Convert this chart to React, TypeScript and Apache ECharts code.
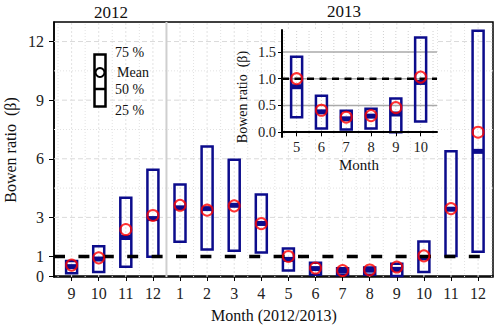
import React, { useEffect, useRef } from 'react';
import * as echarts from 'echarts';

// ---------- data ----------
const monthLabels = ['9', '10', '11', '12', '1', '2', '3', '4', '5', '6', '7', '8', '9', '10', '11', '12'];
const q1Values = [0.14, 0.2, 0.47, 0.98, 1.75, 1.36, 1.29, 1.21, 0.28, 0.07, 0.05, 0.07, 0.0, 0.2, 1.02, 1.24];
const q3Values = [0.77, 1.53, 4.01, 5.44, 4.69, 6.63, 5.95, 4.17, 1.41, 0.68, 0.4, 0.44, 0.63, 1.77, 6.39, 12.55];
const medianValues = [0.48, 0.87, 1.97, 2.94, 3.49, 3.45, 3.62, 2.69, 0.85, 0.38, 0.25, 0.3, 0.34, 0.93, 3.42, 6.38];
const meanValues = [0.56, 0.93, 2.38, 3.1, 3.62, 3.37, 3.59, 2.68, 1.0, 0.41, 0.28, 0.31, 0.46, 1.03, 3.45, 7.36];
const yTickValues = [0, 1, 3, 6, 9, 12];
const mainMajorY = [3, 6, 9, 12];
const mainMinorY = [4.5, 7.5, 10.5];
const yearSeparator = [4.5];
const refValue = [1];

const insetMonths = [5, 6, 7, 8, 9, 10];
const insetStartIndex = 8;
const insetYTicks = [0, 0.5, 1, 1.5];

const yearLabels = ['2012', '2013'];
const legendLabels = ['75 %', 'Mean', '50 %', '25 %'];
const yAxisTitle = 'Bowen ratio  (\u03b2)';
const xAxisTitle = 'Month (2012/2013)';
const insetXAxisTitle = 'Month';

// ---------- layout / style ----------
const FONT = 'Liberation Serif';
const NAVY = '#0c0c8c';
const RED = '#ff0000';
const X_MIN = 0.35, X_MAX = 16.55, Y_MIN = -0.05, Y_MAX = 13.0;
const IX_MIN = 4.41, IX_MAX = 10.66, IY_MIN = -0.09, IY_MAX = 1.91;

function lineSeries(values: number[], dir: 'h' | 'v', axisIdx: number, ex: number[], ey: number[], style: any, z: number) {
  return {
    type: 'custom',
    xAxisIndex: axisIdx,
    yAxisIndex: axisIdx,
    silent: true,
    z,
    data: values.map((v) => [v]),
    renderItem: (_p: any, api: any) => {
      const v = api.value(0);
      const p1 = dir === 'h' ? api.coord([ex[0], v]) : api.coord([v, ey[0]]);
      const p2 = dir === 'h' ? api.coord([ex[1], v]) : api.coord([v, ey[1]]);
      return { type: 'line', shape: { x1: p1[0], y1: p1[1], x2: p2[0], y2: p2[1] }, style };
    },
  };
}

function boxSeries(xs: number[], q1: number[], q3: number[], med: number[], axisIdx: number, z: number) {
  return {
    type: 'custom',
    xAxisIndex: axisIdx,
    yAxisIndex: axisIdx,
    silent: true,
    z,
    encode: { x: 0, y: [1, 2, 3] },
    data: xs.map((x, i) => [x, q1[i], q3[i], med[i]]),
    renderItem: (_p: any, api: any) => {
      const x = api.value(0);
      const lo = api.coord([x, api.value(1)]);
      const hi = api.coord([x, api.value(2)]);
      const md = api.coord([x, api.value(3)]);
      const hw = 5.5;
      return {
        type: 'group',
        children: [
          {
            type: 'rect',
            shape: { x: lo[0] - hw, y: hi[1], width: hw * 2, height: lo[1] - hi[1] },
            style: { fill: 'none', stroke: NAVY, lineWidth: 2.5 },
          },
          {
            type: 'rect',
            shape: { x: lo[0] - hw, y: md[1] - 2.5, width: hw * 2, height: 5 },
            style: { fill: NAVY },
          },
        ],
      };
    },
  };
}

function meanSeries(xs: number[], mean: number[], axisIdx: number, z: number) {
  return {
    type: 'scatter',
    xAxisIndex: axisIdx,
    yAxisIndex: axisIdx,
    silent: true,
    z,
    symbol: 'circle',
    symbolSize: 11,
    itemStyle: { color: 'rgba(0,0,0,0)', borderColor: RED, borderWidth: 2 },
    data: xs.map((x, i) => [x, mean[i]]),
  };
}

export default function App() {
  const ref = useRef<HTMLDivElement>(null);
  useEffect(() => {
    if (!ref.current) return;
    const chart = echarts.init(ref.current, null, { renderer: 'svg' });
    const xs = monthLabels.map((_, i) => i + 1);
    const mainIntX: number[] = xs.slice();
    const mainHalfX: number[] = [];
    for (let i = 0; i <= 16; i++) if (i + 0.5 !== 4.5) mainHalfX.push(i + 0.5);
    const insetHalfX: number[] = [];
    for (let v = 4.5; v <= 10.5; v += 0.5) insetHalfX.push(v);

    const iq1 = q1Values.slice(insetStartIndex, insetStartIndex + insetMonths.length);
    const iq3 = q3Values.slice(insetStartIndex, insetStartIndex + insetMonths.length);
    const imed = medianValues.slice(insetStartIndex, insetStartIndex + insetMonths.length);
    const imean = meanValues.slice(insetStartIndex, insetStartIndex + insetMonths.length);

    const labelStyle = { fontFamily: FONT, fontSize: 16, color: '#222' };
    const insetLabelStyle = { fontFamily: FONT, fontSize: 14.5, color: '#222' };

    const option: any = {
      animation: false,
      backgroundColor: '#fff',
      grid: [
        { left: 54, top: 22, width: 439, height: 255, show: true, borderColor: '#000', borderWidth: 1.5, backgroundColor: 'transparent' },
        { left: 282, top: 30, width: 155, height: 107, show: false },
      ],
      xAxis: [
        {
          type: 'value', gridIndex: 0, min: X_MIN, max: X_MAX,
          axisLine: { show: true, lineStyle: { color: '#000', width: 1.5 } },
          axisTick: { show: true, customValues: xs, length: 5, lineStyle: { color: '#000' } },
          axisLabel: { ...labelStyle, customValues: xs, margin: 8, formatter: (v: number) => monthLabels[Math.round(v) - 1] ?? '' },
          splitLine: { show: false },
        },
        {
          type: 'value', gridIndex: 1, min: IX_MIN, max: IX_MAX, z: 6,
          axisLine: { show: true, lineStyle: { color: '#000', width: 2 } },
          axisTick: { show: true, customValues: insetMonths, length: 4, lineStyle: { color: '#000' } },
          axisLabel: { ...insetLabelStyle, customValues: insetMonths, margin: 2 },
          splitLine: { show: false },
        },
      ],
      yAxis: [
        {
          type: 'value', gridIndex: 0, min: Y_MIN, max: Y_MAX,
          axisLine: { show: true, lineStyle: { color: '#000', width: 1.5 } },
          axisTick: { show: true, customValues: yTickValues, length: 5, lineStyle: { color: '#000' } },
          axisLabel: { ...labelStyle, customValues: yTickValues, margin: 10 },
          splitLine: { show: false },
        },
        {
          type: 'value', gridIndex: 1, min: IY_MIN, max: IY_MAX, z: 6,
          axisLine: { show: true, lineStyle: { color: '#000', width: 2 } },
          axisTick: { show: true, customValues: insetYTicks, length: 4, lineStyle: { color: '#000' } },
          axisLabel: { ...insetLabelStyle, customValues: insetYTicks, margin: 6, formatter: (v: number) => v.toFixed(1) },
          splitLine: { show: false },
        },
      ],
      graphic: [
        { type: 'rect', z: 2, silent: true, shape: { x: 282, y: 30, width: 155, height: 107 }, style: { fill: '#fff' } },
        { type: 'text', z: 10, x: 111, y: 12, style: { text: yearLabels[0], font: `17px "${FONT}"`, fill: '#111', align: 'center', verticalAlign: 'middle' } },
        { type: 'text', z: 10, x: 344, y: 11, style: { text: yearLabels[1], font: `17px "${FONT}"`, fill: '#111', align: 'center', verticalAlign: 'middle' } },
        { type: 'text', z: 10, x: 10, y: 150, rotation: Math.PI / 2, style: { text: yAxisTitle, font: `16px "${FONT}"`, fill: '#111', align: 'center', verticalAlign: 'middle' } },
        { type: 'text', z: 10, x: 274, y: 315, style: { text: xAxisTitle, font: `16px "${FONT}"`, fill: '#111', align: 'center', verticalAlign: 'middle' } },
        { type: 'text', z: 10, x: 242, y: 97, rotation: Math.PI / 2, style: { text: yAxisTitle, font: `14px "${FONT}"`, fill: '#111', align: 'center', verticalAlign: 'middle' } },
        { type: 'text', z: 10, x: 359, y: 165, style: { text: insetXAxisTitle, font: `15px "${FONT}"`, fill: '#111', align: 'center', verticalAlign: 'middle' } },
        // legend
        { type: 'rect', z: 10, shape: { x: 94.5, y: 54.5, width: 11, height: 52 }, style: { fill: '#fff', stroke: '#000', lineWidth: 2.5 } },
        { type: 'line', z: 10, shape: { x1: 94.5, y1: 89, x2: 105.5, y2: 89 }, style: { stroke: '#000', lineWidth: 2.5 } },
        { type: 'circle', z: 11, shape: { cx: 100, cy: 72.5, r: 4.5 }, style: { fill: '#fff', stroke: '#000', lineWidth: 2 } },
        { type: 'text', z: 10, x: 115, y: 52.5, style: { text: legendLabels[0], font: `14px "${FONT}"`, fill: '#111', verticalAlign: 'middle' } },
        { type: 'text', z: 10, x: 117, y: 72, style: { text: legendLabels[1], font: `14px "${FONT}"`, fill: '#111', verticalAlign: 'middle' } },
        { type: 'text', z: 10, x: 115, y: 89, style: { text: legendLabels[2], font: `14px "${FONT}"`, fill: '#111', verticalAlign: 'middle' } },
        { type: 'text', z: 10, x: 115, y: 110, style: { text: legendLabels[3], font: `14px "${FONT}"`, fill: '#111', verticalAlign: 'middle' } },
      ],
      series: [
        // main grid lines
        lineSeries(mainMajorY, 'h', 0, [X_MIN, X_MAX], [Y_MIN, Y_MAX], { stroke: '#dadada', lineWidth: 1, lineDash: [5, 3] }, 1),
        lineSeries(mainMinorY, 'h', 0, [X_MIN, X_MAX], [Y_MIN, Y_MAX], { stroke: '#e2e2e2', lineWidth: 1, lineDash: [1, 2] }, 1),
        lineSeries(mainIntX, 'v', 0, [X_MIN, X_MAX], [Y_MIN, Y_MAX], { stroke: '#e2e2e2', lineWidth: 1, lineDash: [2, 2] }, 1),
        lineSeries(mainHalfX, 'v', 0, [X_MIN, X_MAX], [Y_MIN, Y_MAX], { stroke: '#e2e2e2', lineWidth: 1, lineDash: [1, 2] }, 1),
        lineSeries(yearSeparator, 'v', 0, [X_MIN, X_MAX], [Y_MIN, Y_MAX], { stroke: '#cfcfcf', lineWidth: 2 }, 1),
        // main boxes
        boxSeries(xs, q1Values, q3Values, medianValues, 0, 3),
        lineSeries(refValue, 'h', 0, [X_MIN, X_MAX], [Y_MIN, Y_MAX], { stroke: '#000', lineWidth: 3.5, lineDash: [11, 13.4] }, 4),
        meanSeries(xs, meanValues, 0, 5),
        // inset grid lines
        lineSeries(insetHalfX, 'v', 1, [IX_MIN, IX_MAX], [IY_MIN, IY_MAX], { stroke: '#d0d0d0', lineWidth: 1, lineDash: [1, 2] }, 4),
        lineSeries(insetYTicks, 'h', 1, [IX_MIN, IX_MAX], [IY_MIN, IY_MAX], { stroke: '#aaaaaa', lineWidth: 1.5 }, 4),
        boxSeries(insetMonths, iq1, iq3, imed, 1, 5),
        lineSeries(refValue, 'h', 1, [IX_MIN, IX_MAX], [IY_MIN, IY_MAX], { stroke: '#000', lineWidth: 2.5, lineDash: [7, 5.5] }, 6),
        meanSeries(insetMonths, imean, 1, 7),
      ],
    };
    chart.setOption(option);
    return () => chart.dispose();
  }, []);
  return <div ref={ref} style={{ width: 500, height: 328, position: 'absolute', left: 0, top: 0 }} />;
}
